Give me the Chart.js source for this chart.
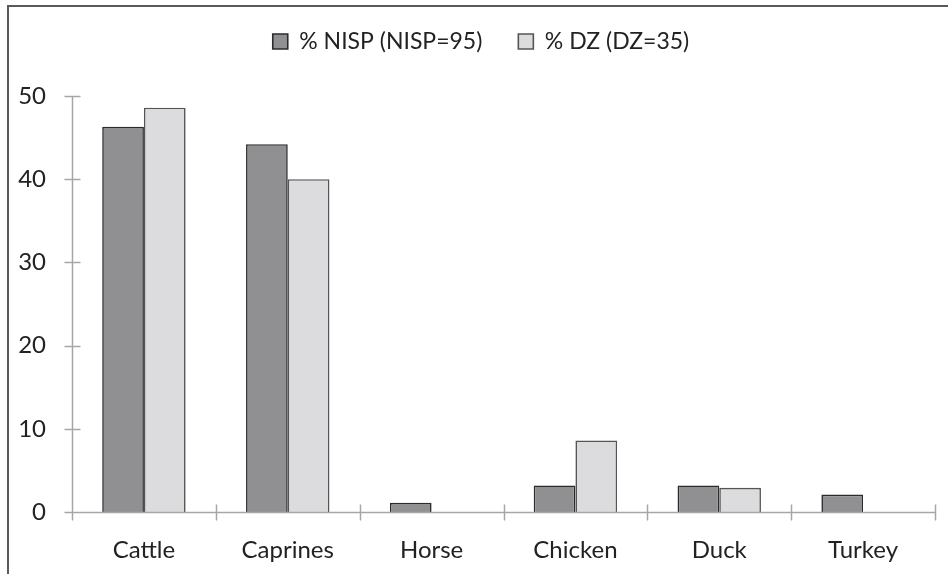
<!DOCTYPE html>
<html>
<head>
<meta charset="utf-8">
<script src="https://cdn.jsdelivr.net/npm/chart.js@4"></script>
<style>
  html, body { margin: 0; padding: 0; background: #fff; }
  body { width: 948px; height: 574px; position: relative; overflow: hidden; }
  #frame { position: absolute; left: 7px; top: 5px; width: 960px; height: 600px; border: 2px solid #5a5a5a; box-sizing: border-box; }
  #wrap { position: absolute; left: 0; top: 0; width: 948px; height: 574px; }
</style>
</head>
<body>
<div id="frame"></div>
<div id="wrap"><canvas id="c" width="948" height="574"></canvas></div>
<script>
// Species categories
const categories = ['Cattle', 'Caprines', 'Horse', 'Chicken', 'Duck', 'Turkey'];
// Percentage of identified specimens (NISP = 95)
const nispPct = [46.3, 44.2, 1.1, 3.2, 3.2, 2.1];
// Percentage of diagnostic zones (DZ = 35)
const dzPct = [48.6, 40.0, 0, 8.6, 2.9, 0];
const seriesLabels = ['% NISP (NISP=95)', '% DZ (DZ=35)'];
const yTicks = [0, 10, 20, 30, 40, 50];

const FONT = 'Lato, "Open Sans", sans-serif';
const AXIS_COLOR = '#a6a6a6';

// Tick marks that cross the axis lines on both sides
const crossTicks = {
  id: 'crossTicks',
  afterDatasetsDraw(chart) {
    const { ctx, scales: { x, y } } = chart;
    ctx.save();
    ctx.strokeStyle = AXIS_COLOR;
    ctx.lineWidth = 1.5;
    ctx.beginPath();
    const base = Math.round(y.getPixelForValue(0)) + 0.5;
    const ax = Math.round(x.left) + 0.5;
    ctx.moveTo(ax, base);
    ctx.lineTo(ax, y.getPixelForValue(50));
    ctx.moveTo(ax - 8, base);
    ctx.lineTo(x.right, base);
    yTicks.forEach(v => {
      const py = Math.round(y.getPixelForValue(v)) + 0.5;
      ctx.moveTo(ax - 8, py);
      ctx.lineTo(ax + 8, py);
    });
    for (let i = 0; i <= categories.length; i++) {
      const px = Math.round(x.left + (x.right - x.left) * i / categories.length) + 0.5;
      ctx.moveTo(px, base - 8);
      ctx.lineTo(px, base + 8);
    }
    ctx.stroke();
    ctx.restore();
  }
};

// Fixed legend band height above the plot, legend nudged right
const legendBand = {
  id: 'legendBand',
  beforeInit(chart) {
    const fit = chart.legend.fit;
    chart.legend.fit = function () {
      fit.call(this);
      this.height = 102;
    };
  },
  afterLayout(chart) {
    chart.legend.left += 27;
  }
};

new Chart(document.getElementById('c'), {
  type: 'bar',
  data: {
    labels: categories,
    datasets: [
      {
        label: seriesLabels[0],
        data: nispPct,
        backgroundColor: '#909093',
        borderColor: '#2b2b2b',
        borderWidth: c => (c.raw ? 1.6 : 0),
        borderSkipped: 'bottom',
        categoryPercentage: 0.58,
        barPercentage: 1.0
      },
      {
        label: seriesLabels[1],
        data: dzPct,
        backgroundColor: '#dcdcde',
        borderColor: '#555555',
        borderWidth: c => (c.raw ? 1.6 : 0),
        borderSkipped: 'bottom',
        categoryPercentage: 0.58,
        barPercentage: 1.0
      }
    ]
  },
  options: {
    responsive: false,
    animation: false,
    devicePixelRatio: 1,
    layout: { padding: { top: -6, right: 13, left: 0, bottom: 0 } },
    plugins: {
      tooltip: { enabled: false },
      legend: {
        position: 'top',
        align: 'center',
        labels: {
          font: { family: FONT, size: 23 },
          color: '#222',
          boxWidth: 15,
          boxHeight: 15,
          padding: 36
        }
      }
    },
    scales: {
      x: {
        grid: { display: false, drawTicks: false },
        border: { display: false },
        ticks: { font: { family: FONT, size: 24 }, color: '#222', padding: 24 },
        afterFit(s) { s.height = 62; }
      },
      y: {
        min: 0,
        max: 50,
        grid: { display: false, drawTicks: false },
        border: { display: false },
        ticks: { stepSize: 10, font: { family: FONT, size: 24 }, color: '#222', padding: 26 },
        afterFit(s) { s.width = 72; }
      }
    }
  },
  plugins: [crossTicks, legendBand]
});
</script>
</body>
</html>
